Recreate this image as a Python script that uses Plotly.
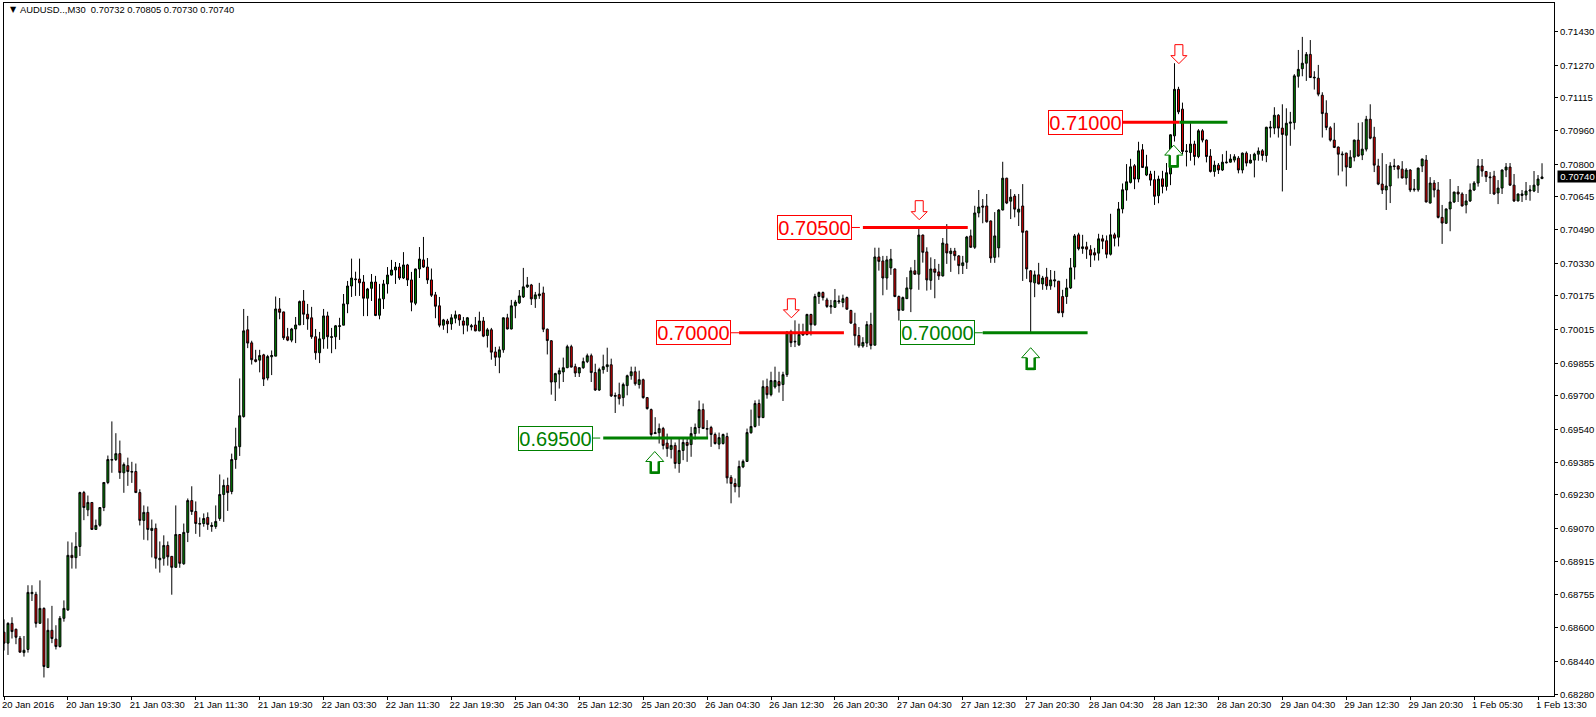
import plotly.graph_objects as go

POINT = 1e-5  # prices below are in 0.00001 units

opens = [
68578,68526,68620,68592,68549,68481,68496,68761,68758,68620,
68691,68410,68587,68545,68510,68644,68684,68943,68932,68985,
69241,69159,69194,69066,69086,69170,69289,69395,69398,69426,
69335,69369,69338,69341,69241,69109,69147,69061,69071,68922,
68929,68990,68938,68886,69042,68903,69052,69203,69151,69091,
69094,69123,69080,69080,69118,69232,69275,69246,69398,69459,
69602,70014,69952,69872,69870,69895,69785,69886,69889,70113,
70099,69981,69965,70018,70037,70151,70088,70071,69981,69905,
69971,70080,69978,69981,70030,70036,70137,70222,70252,70255,
70241,70164,70211,70241,70083,70161,70232,70274,70298,70312,
70260,70322,70251,70140,70303,70346,70312,70251,70180,70128,
70036,70056,70042,70069,70085,70056,70036,70028,70037,70009,
70056,69987,70014,69909,69884,69919,70071,70018,70128,70142,
70170,70218,70227,70161,70176,70189,70017,69962,69766,69804,
69814,69834,69934,69839,69809,69834,69863,69891,69811,69728,
69825,69839,69848,69698,69706,69692,69749,69796,69815,69754,
69777,69692,69635,69521,69525,69545,69476,69446,69465,69379,
69441,69479,69469,69521,69550,69635,69542,69550,69517,69471,
69474,69507,69313,69284,69269,69363,69389,69525,69555,69664,
69597,69744,69706,69743,69768,69754,69801,70005,69956,69943,
69989,69992,70087,70038,70172,70191,70156,70123,70121,70147,
70144,70167,70106,70042,69987,69937,69951,70039,69941,70360,
70341,70260,70308,70303,70172,70107,70162,70208,70294,70278,
70464,70384,70249,70303,70289,70270,70422,70376,70388,70365,
70319,70335,70460,70406,70569,70602,70602,70531,70358,70403,
70583,70734,70625,70649,70573,70602,70483,70294,70237,70275,
70232,70264,70223,70246,70245,70172,70172,70213,70312,70465,
70400,70408,70394,70380,70378,70446,70437,70373,70465,70454,
70588,70678,70714,70793,70730,70869,70749,70754,70727,70651,
70731,70695,70754,70935,71156,71062,70860,70856,70896,70837,
70959,70915,70839,70766,70796,70773,70807,70810,70820,70829,
70773,70853,70806,70820,70848,70864,70842,70972,70972,71033,
70972,70938,70995,70998,71218,71254,71280,71322,71210,71209,
71128,71043,70973,70915,70882,70845,70853,70785,70834,70915,
70844,70872,71014,70929,70792,70706,70678,70697,70789,70792,
70777,70735,70773,70679,70679,70792,70820,70616,70711,70678,
70548,70520,70588,70621,70668,70659,70607,70626,70678,70711,
70792,70766,70736,70744,70664,70687,70773,70787,70701,70626,
70652,70654,70673,70673,70701,70732,
]

closes = [
68526,68620,68581,68554,68483,68492,68767,68767,68620,68691,
68415,68587,68548,68510,68644,68691,68943,68932,68985,69241,
69170,69194,69066,69085,69170,69289,69398,69398,69426,69336,
69374,69341,69341,69241,69109,69147,69066,69071,68929,68929,
68990,68936,68886,69042,68905,69052,69203,69151,69094,69094,
69118,69090,69085,69104,69232,69275,69241,69398,69459,69606,
70009,69951,69872,69864,69892,69780,69887,69892,70113,70097,
69976,69965,70018,70037,70148,70088,70066,69981,69905,69971,
70080,69981,69981,70033,70033,70137,70222,70260,70255,70237,
70164,70208,70241,70082,70161,70232,70274,70298,70312,70260,
70322,70251,70145,70303,70350,70312,70251,70178,70126,70036,
70061,70042,70071,70085,70061,70036,70071,70033,70009,70056,
69984,70014,69908,69884,69919,70071,70018,70128,70146,70175,
70218,70227,70161,70180,70184,70017,69963,69766,69806,69820,
69834,69934,69837,69809,69834,69863,69891,69811,69728,69825,
69839,69848,69700,69702,69687,69754,69796,69815,69758,69777,
69692,69640,69517,69525,69545,69465,69450,69465,69379,69441,
69479,69465,69521,69550,69635,69545,69545,69517,69474,69502,
69517,69311,69284,69269,69365,69389,69526,69555,69664,69597,
69744,69706,69773,69773,69749,69801,70002,69953,69959,69992,
69995,70087,70038,70172,70191,70167,70125,70128,70153,70151,
70162,70112,70046,69986,69938,69954,70039,69940,70360,70339,
70260,70346,70350,70172,70106,70167,70213,70294,70278,70464,
70382,70251,70303,70287,70270,70426,70379,70388,70366,70319,
70332,70455,70406,70569,70597,70597,70527,70355,70460,70583,
70734,70616,70644,70587,70587,70477,70303,70241,70275,70232,
70260,70223,70251,70251,70095,70095,70213,70308,70460,70399,
70408,70397,70369,70369,70446,70435,70373,70465,70449,70588,
70679,70717,70788,70730,70864,70785,70788,70725,70648,70730,
70695,70760,70940,71156,71049,70861,70863,70896,70837,70959,
70915,70837,70766,70796,70773,70810,70810,70825,70836,70773,
70853,70806,70820,70848,70863,70842,70976,70976,71033,70972,
70942,70995,71000,71220,71251,71280,71322,71212,71213,71133,
71041,70975,70915,70880,70848,70848,70787,70834,70915,70839,
70872,71014,70924,70796,70706,70678,70697,70792,70792,70777,
70735,70773,70678,70682,70782,70825,70621,70711,70678,70548,
70521,70588,70621,70668,70659,70602,70626,70678,70711,70792,
70768,70741,70739,70659,70687,70773,70787,70701,70626,70659,
70659,70673,70678,70701,70730,70740,
]

highs = [
68639,68625,68649,68595,68560,68560,68801,68801,68770,68824,
68696,68644,68703,68611,68655,68729,69009,69004,69053,69245,
69249,69227,69196,69113,69172,69291,69417,69579,69523,69488,
69384,69407,69387,69379,69257,69180,69175,69113,69094,69009,
69038,69009,68940,69180,69044,69094,69213,69271,69199,69123,
69142,69147,69100,69180,69327,69303,69312,69426,69549,69783,
70113,70080,69962,69919,69919,69900,69895,69916,70172,70165,
70100,70023,70023,70075,70153,70203,70137,70123,70018,70004,
70113,70100,70023,70037,70071,70184,70246,70352,70290,70352,
70274,70213,70279,70270,70232,70251,70312,70346,70336,70331,
70383,70327,70289,70305,70407,70455,70355,70305,70194,70170,
70066,70066,70088,70105,70088,70075,70075,70042,70075,70100,
70075,70023,70023,69933,69935,70073,70090,70156,70156,70203,
70308,70265,70232,70194,70237,70219,70020,69965,69810,69834,
69882,69943,69943,69853,69836,69882,69901,69901,69853,69834,
69896,69929,69877,69716,69763,69763,69801,69839,69839,69820,
69782,69695,69640,69599,69569,69553,69521,69502,69479,69502,
69498,69498,69553,69569,69678,69664,69585,69558,69526,69526,
69521,69525,69324,69308,69393,69398,69545,69635,69679,69683,
69774,69782,69815,69839,69815,69815,70008,70014,70059,70043,
70043,70090,70090,70185,70196,70196,70166,70156,70208,70177,
70181,70172,70109,70095,70027,69979,70055,70095,70404,70404,
70365,70365,70398,70305,70177,70172,70264,70311,70346,70507,
70466,70406,70358,70350,70327,70450,70516,70403,70403,70369,
70365,70460,70490,70603,70678,70635,70659,70533,70573,70587,
70812,70736,70682,70659,70659,70706,70485,70298,70295,70332,
70270,70308,70298,70294,70246,70204,70256,70355,70469,70475,
70465,70432,70416,70403,70470,70465,70462,70565,70475,70621,
70709,70801,70826,70801,70907,70896,70845,70769,70769,70746,
70769,70806,70943,71280,71168,71093,70896,70995,70912,70967,
70967,70918,70872,70817,70806,70848,70864,70848,70848,70839,
70856,70861,70848,70855,70880,70872,70978,71006,71071,71038,
71085,71066,71049,71228,71343,71405,71333,71390,71242,71272,
71142,71104,70981,70997,70884,70861,70855,70867,70917,70997,
71000,71030,71085,70978,70826,70853,70801,70810,70826,70796,
70815,70782,70777,70730,70784,70827,70844,70739,70725,70716,
70607,70590,70730,70670,70697,70667,70659,70709,70720,70825,
70825,70768,70763,70769,70725,70775,70806,70806,70754,70661,
70678,70716,70701,70768,70749,70805,
]

lows = [
68491,68470,68548,68521,68483,68462,68481,68726,68600,68620,
68363,68410,68526,68496,68505,68628,68679,68880,68880,68940,
69110,69129,69064,69064,69079,69153,69281,69335,69391,69306,
69240,69273,69287,69241,69085,69017,69014,68933,68880,68861,
68894,68894,68756,68884,68884,68898,69006,69135,69045,69031,
69079,69064,69055,69069,69107,69102,69154,69233,69354,69415,
69597,69927,69849,69859,69812,69747,69774,69799,69889,70064,
69966,69960,69955,69951,70037,70037,70014,69971,69872,69856,
69924,69924,69903,69922,69966,70036,70093,70170,70175,70175,
70079,70079,70151,70079,70064,70113,70186,70272,70232,70251,
70255,70222,70102,70131,70260,70308,70232,70170,70069,70026,
70014,69998,70014,70045,70033,69993,70006,70011,70007,70007,
69979,69930,69872,69842,69808,69905,70016,70016,70069,70137,
70165,70213,70132,70118,70161,70003,69897,69706,69676,69735,
69766,69832,69835,69790,69790,69829,69856,69766,69724,69724,
69806,69814,69695,69619,69659,69651,69703,69777,69749,69735,
69687,69635,69506,69520,69474,69446,69411,69403,69355,69335,
69395,69387,69411,69493,69521,69543,69501,69458,69469,69447,
69469,69284,69190,69242,69218,69357,69387,69521,69550,69558,
69595,69687,69698,69735,69716,69676,69790,69932,69932,69937,
69987,69987,69987,70033,70137,70153,70118,70090,70118,70137,
70121,70109,70042,69940,69929,69929,69932,69921,69940,70295,
70178,70204,70275,70169,70058,70106,70161,70098,70275,70204,
70333,70200,70204,70164,70251,70267,70327,70289,70343,70278,
70279,70303,70404,70398,70548,70520,70523,70332,70332,70358,
70581,70611,70540,70548,70507,70246,70256,70003,70169,70230,
70204,70204,70204,70216,70093,70074,70137,70208,70253,70391,
70375,70351,70312,70343,70343,70397,70354,70367,70410,70410,
70567,70627,70709,70682,70714,70783,70744,70698,70607,70615,
70662,70675,70701,70908,71038,70848,70790,70817,70795,70829,
70904,70809,70761,70741,70754,70768,70804,70809,70809,70757,
70757,70790,70804,70738,70817,70817,70810,70927,70943,70927,
70671,70773,70888,70965,71164,71218,71196,71210,71155,71123,
70927,70962,70908,70877,70747,70766,70695,70782,70814,70836,
70820,70861,70919,70763,70701,70659,70583,70616,70773,70733,
70733,70703,70668,70670,70670,70763,70619,70614,70643,70543,
70422,70517,70482,70616,70621,70600,70567,70621,70673,70694,
70741,70716,70659,70654,70611,70659,70739,70698,70621,70624,
70621,70630,70627,70668,70664,70730,
]

assert len(opens) == len(closes) == len(highs) == len(lows) == 386

x_tick_labels = [
    "20 Jan 2016", "20 Jan 19:30", "21 Jan 03:30", "21 Jan 11:30", "21 Jan 19:30",
    "22 Jan 03:30", "22 Jan 11:30", "22 Jan 19:30", "25 Jan 04:30", "25 Jan 12:30",
    "25 Jan 20:30", "26 Jan 04:30", "26 Jan 12:30", "26 Jan 20:30", "27 Jan 04:30",
    "27 Jan 12:30", "27 Jan 20:30", "28 Jan 04:30", "28 Jan 12:30", "28 Jan 20:30",
    "29 Jan 04:30", "29 Jan 12:30", "29 Jan 20:30", "1 Feb 05:30", "1 Feb 13:30",
]
BARS_PER_TICK = 16
y_tick_labels = [
    "0.71430", "0.71270", "0.71115", "0.70960", "0.70800", "0.70645", "0.70490",
    "0.70330", "0.70175", "0.70015", "0.69855", "0.69700", "0.69540", "0.69385",
    "0.69230", "0.69070", "0.68915", "0.68755", "0.68600", "0.68440", "0.68280",
]

# level, colour, label box centre bar, stub start/end, thick line start/end (bar index)
levels = [
    (0.69500, "#008000", 137.7, 146.75, 149.25, 150.0, 176.25),
    (0.70000, "#ff0000", 172.2, 181.75, 184.0, 184.0, 210.25),
    (0.70500, "#ff0000", 202.6, 211.75, 214.25, 215.0, 241.25),
    (0.70000, "#008000", 233.3, 242.7, 245.0, 245.0, 271.25),
    (0.71000, "#ff0000", 270.4, 279.75, 279.75, 279.75, 294.25),
]
extra_green_level = (0.71000, "#008000", 294.25, 306.25)

down_arrows = [(197.1, 0.70071), (229.1, 0.70537), (294.1, 0.71278)]
up_arrows = [(162.9, 0.69436), (257.0, 0.69929), (292.8, 0.70891)]

bars = list(range(len(opens)))
to_price = lambda values: [v * POINT for v in values]

fig = go.Figure()

for price, colour, _, s0, s1, l0, l1 in levels:
    fig.add_trace(go.Scatter(x=[s0, s1], y=[price, price], mode="lines",
                             line=dict(color=colour, width=1), hoverinfo="skip"))
    fig.add_trace(go.Scatter(x=[l0, l1], y=[price, price], mode="lines",
                             line=dict(color=colour, width=3), hoverinfo="skip"))
price, colour, l0, l1 = extra_green_level
fig.add_trace(go.Scatter(x=[l0, l1], y=[price, price], mode="lines",
                         line=dict(color=colour, width=3), hoverinfo="skip"))

fig.add_trace(go.Candlestick(
    x=bars, open=to_price(opens), high=to_price(highs), low=to_price(lows), close=to_price(closes),
    increasing=dict(line=dict(color="#000000", width=1), fillcolor="#008000"),
    decreasing=dict(line=dict(color="#000000", width=1), fillcolor="#e00000"),
    whiskerwidth=0,
))

shapes = []
for ax, ay in down_arrows:
    shapes.append(dict(type="path", xref="x", yref="y", xsizemode="pixel", ysizemode="pixel",
                       xanchor=ax, yanchor=ay,
                       path="M0,0 L8,8 L4,8 L4,19 L-4,19 L-4,8 L-8,8 Z",
                       fillcolor="#ffffff", line=dict(color="#ff0000", width=1)))
for ax, ay in up_arrows:
    shapes.append(dict(type="path", xref="x", yref="y", xsizemode="pixel", ysizemode="pixel",
                       xanchor=ax, yanchor=ay,
                       path="M0,0 L9,-10 L4,-10 L4,-22 L-4,-22 L-4,-10 L-9,-10 Z",
                       fillcolor="#ffffff", line=dict(color="#008000", width=1)))
    shapes.append(dict(type="path", xref="x", yref="y", xsizemode="pixel", ysizemode="pixel",
                       xanchor=ax, yanchor=ay,
                       path="M4,-10 L4,-21 L-4,-21 L-4,-10",
                       line=dict(color="#008000", width=2.5)))

annotations = []
for price, colour, cx, *_ in levels:
    annotations.append(dict(x=cx + 0.3, y=price, xref="x", yref="y", text=f"{price:.5f}", showarrow=False,
                            font=dict(family="Liberation Sans", size=20, color=colour),
                            bgcolor="#ffffff", bordercolor=colour, borderwidth=1, borderpad=0,
                            width=73, height=23))
annotations.append(dict(x=0.0028, y=0.9905, xref="paper", yref="paper", xanchor="left", yanchor="middle",
                        text="▼", showarrow=False, font=dict(family="DejaVu Sans", size=8, color="#000000")))
annotations.append(dict(x=0.0090, y=0.9905, xref="paper", yref="paper", xanchor="left", yanchor="middle",
                        text="AUDUSD..,M30  0.70732 0.70805 0.70730 0.70740", showarrow=False,
                        font=dict(family="Liberation Sans", size=9.4, color="#000000")))
annotations.append(dict(x=1.0019, y=closes[-1] * POINT, xref="paper", yref="y", xanchor="left", yanchor="middle",
                        text=f"{closes[-1] * POINT:.5f}", showarrow=False, bgcolor="#000000",
                        font=dict(family="Liberation Sans", size=9.5, color="#ffffff"),
                        borderpad=0, width=39, height=11))

fig.update_layout(
    width=1596, height=717,
    margin=dict(l=3, r=41, t=2, b=21),
    paper_bgcolor="#ffffff", plot_bgcolor="#ffffff",
    showlegend=False, shapes=shapes, annotations=annotations,
    font=dict(family="Liberation Sans", size=10, color="#000000"),
    xaxis=dict(
        range=[0, 388], rangeslider=dict(visible=False), showgrid=False, zeroline=False,
        tickmode="array", tickvals=[BARS_PER_TICK * k for k in range(len(x_tick_labels))],
        ticktext=x_tick_labels, ticks="outside", ticklen=3, tickcolor="#000000",
        ticklabelposition="outside right", ticklabelshift=-3, tickangle=0,
        showline=True, linecolor="#000000", linewidth=1, mirror=True,
        tickfont=dict(family="Liberation Sans", size=9.5),
    ),
    yaxis=dict(
        range=[0.68275, 0.71566], side="right", showgrid=False, zeroline=False,
        tickmode="array", tickvals=[float(s) for s in y_tick_labels], ticktext=y_tick_labels,
        ticks="outside", ticklen=3, tickcolor="#000000",
        showline=True, linecolor="#000000", linewidth=1, mirror=True,
        tickfont=dict(family="Liberation Sans", size=9.5),
    ),
)

fig.write_html("out.html", config=dict(displayModeBar=False),
               post_script="document.body.style.margin='0';document.body.style.overflow='hidden';")
